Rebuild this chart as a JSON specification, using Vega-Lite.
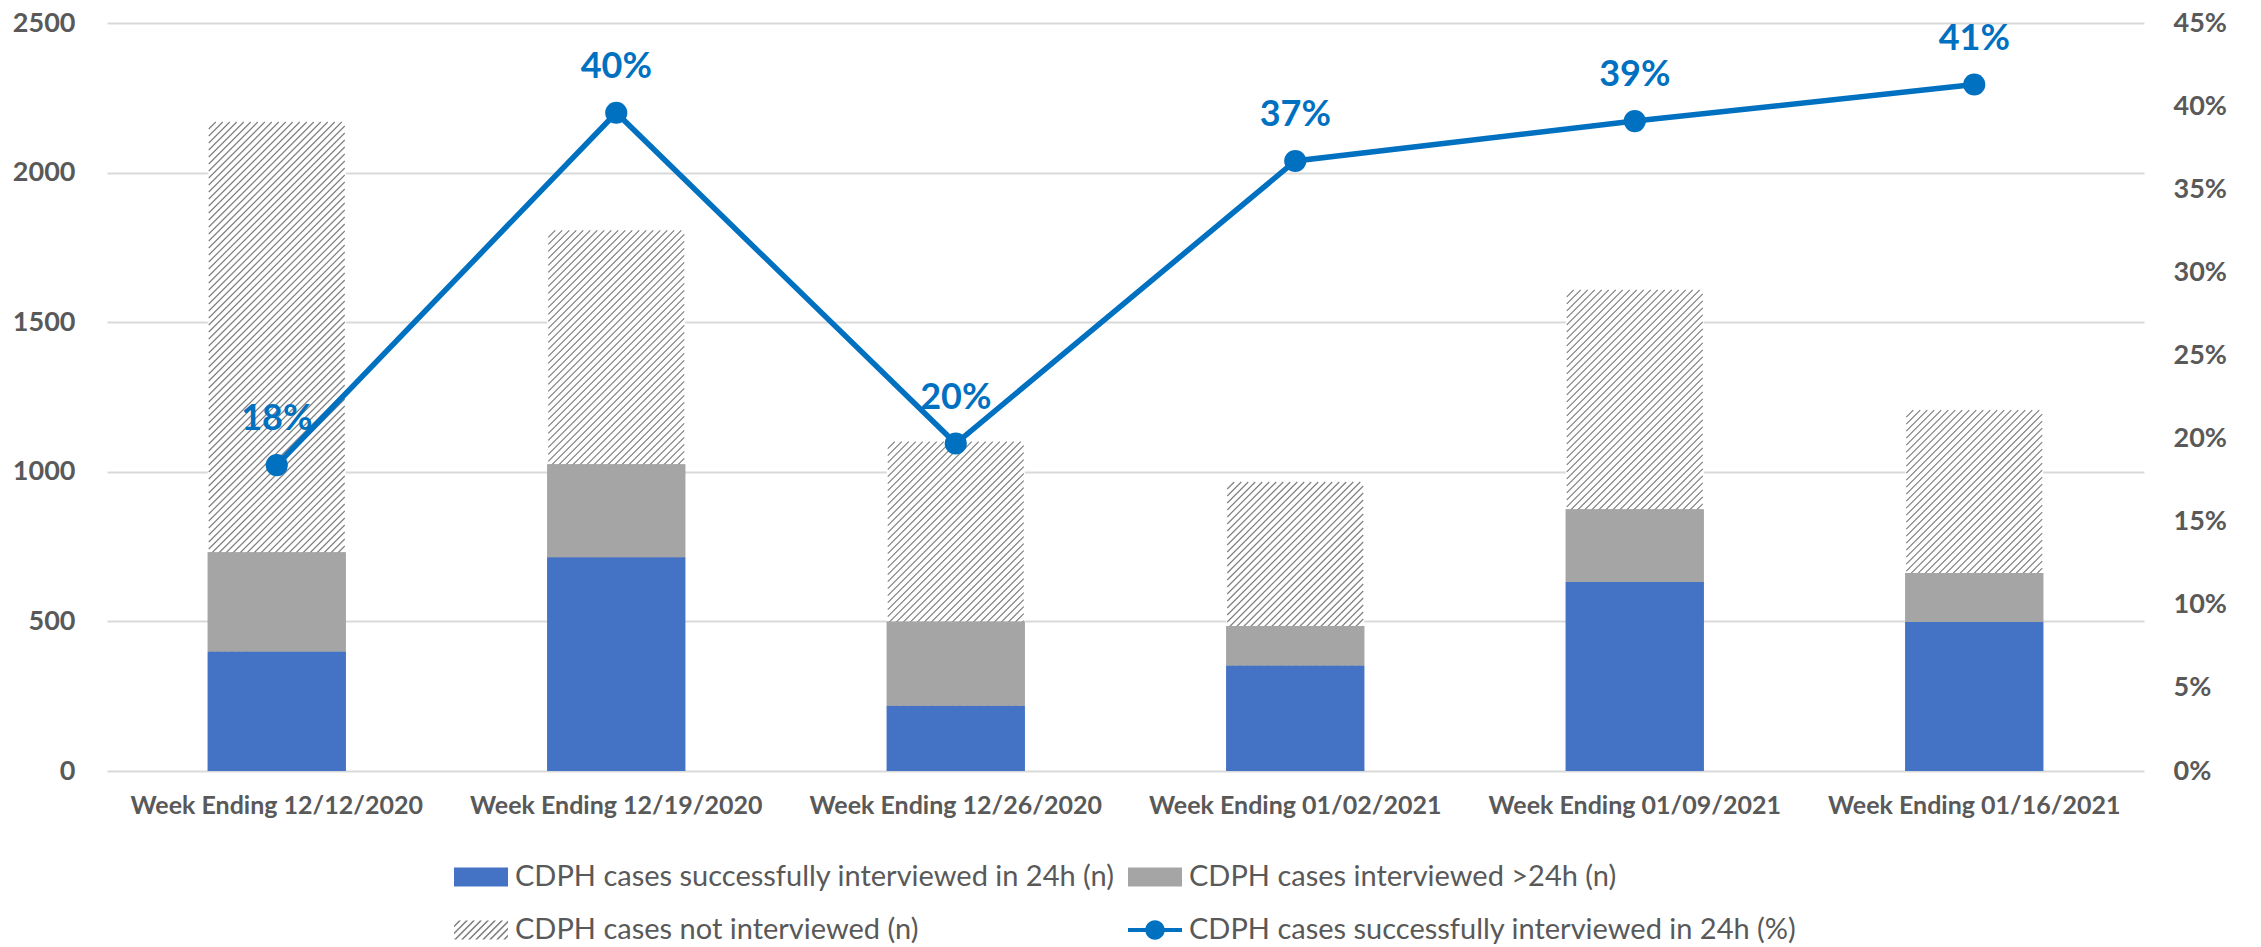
{
  "$schema": "https://vega.github.io/schema/vega-lite/v6.json",
  "width": 2037,
  "height": 748,
  "autosize": {"type": "none"},
  "padding": {"left": 107, "top": 23, "right": 117, "bottom": 176},
  "background": "white",
  "config": {
    "view": {"stroke": null},
    "font": "Lato",
    "axis": {"labelColor": "#595959", "labelFont": "Lato", "domain": false, "ticks": false, "gridColor": "#D9D9D9", "gridWidth": 2, "labelLimit": 0},
    "axisLeft": {"labelFontSize": 27, "labelFontWeight": "bold", "labelPadding": 32},
    "axisRight": {"labelFontSize": 27, "labelFontWeight": "bold", "labelPadding": 29, "grid": false},
    "axisBottom": {"labelFontSize": 25, "labelFontWeight": "bold", "labelPadding": 22, "labelAngle": 0, "grid": false},
    "legend": {"labelFont": "Lato", "labelFontSize": 29, "labelColor": "#595959", "symbolSize": 2916, "symbolStrokeWidth": 0, "symbolOpacity": 1, "labelOffset": 7, "columnPadding": 13, "rowPadding": 11, "orient": "none", "legendX": 347, "legendY": 827, "direction": "horizontal", "columns": 2, "labelLimit": 0}
  },
  "datasets": {
    "counts": [
      {"week": "Week Ending 12/12/2020", "series": "interviewed_24h", "n": 399},
      {"week": "Week Ending 12/12/2020", "series": "interviewed_over_24h", "n": 332},
      {"week": "Week Ending 12/12/2020", "series": "not_interviewed", "n": 1438},
      {"week": "Week Ending 12/19/2020", "series": "interviewed_24h", "n": 714},
      {"week": "Week Ending 12/19/2020", "series": "interviewed_over_24h", "n": 311},
      {"week": "Week Ending 12/19/2020", "series": "not_interviewed", "n": 782},
      {"week": "Week Ending 12/26/2020", "series": "interviewed_24h", "n": 218},
      {"week": "Week Ending 12/26/2020", "series": "interviewed_over_24h", "n": 282},
      {"week": "Week Ending 12/26/2020", "series": "not_interviewed", "n": 601},
      {"week": "Week Ending 01/02/2021", "series": "interviewed_24h", "n": 353},
      {"week": "Week Ending 01/02/2021", "series": "interviewed_over_24h", "n": 132},
      {"week": "Week Ending 01/02/2021", "series": "not_interviewed", "n": 481},
      {"week": "Week Ending 01/09/2021", "series": "interviewed_24h", "n": 632},
      {"week": "Week Ending 01/09/2021", "series": "interviewed_over_24h", "n": 243},
      {"week": "Week Ending 01/09/2021", "series": "not_interviewed", "n": 733},
      {"week": "Week Ending 01/16/2021", "series": "interviewed_24h", "n": 498},
      {"week": "Week Ending 01/16/2021", "series": "interviewed_over_24h", "n": 164},
      {"week": "Week Ending 01/16/2021", "series": "not_interviewed", "n": 544}
    ],
    "pct": [
      {"week": "Week Ending 12/12/2020", "pct": 0.184},
      {"week": "Week Ending 12/19/2020", "pct": 0.396},
      {"week": "Week Ending 12/26/2020", "pct": 0.197},
      {"week": "Week Ending 01/02/2021", "pct": 0.367},
      {"week": "Week Ending 01/09/2021", "pct": 0.391},
      {"week": "Week Ending 01/16/2021", "pct": 0.413}
    ]
  },
  "encoding": {
    "x": {
      "field": "week",
      "type": "nominal",
      "title": null,
      "scale": {
        "domain": ["Week Ending 12/12/2020", "Week Ending 12/19/2020", "Week Ending 12/26/2020", "Week Ending 01/02/2021", "Week Ending 01/09/2021", "Week Ending 01/16/2021"],
        "paddingInner": 0,
        "paddingOuter": 0
      },
      "axis": {"title": null}
    }
  },
  "layer": [
    {
      "data": {"name": "counts"},
      "layer": [
        {
          "mark": {"type": "bar", "width": 138},
          "encoding": {
            "y": {"field": "n", "type": "quantitative", "stack": "zero", "title": null,
              "scale": {"domain": [0, 2500], "nice": false},
              "axis": {"title": null, "values": [0, 500, 1000, 1500, 2000, 2500], "grid": true, "format": "d"}},
            "order": {"field": "series", "sort": "ascending"},
            "color": {
              "condition": {"test": "datum.series === 'not_interviewed'", "value": "#FFFFFF"},
              "field": "series",
              "type": "nominal",
              "scale": {
                "domain": ["interviewed_24h", "interviewed_over_24h", "not_interviewed", "pct_interviewed_24h"],
                "range": ["#4472C4", "#A5A5A5", "#7F7F7F", "#0070C0"]
              },
              "legend": {
                "title": null,
                "labelExpr": "datum.value === 'interviewed_24h' ? 'CDPH cases successfully interviewed in 24h (n)' : datum.value === 'interviewed_over_24h' ? 'CDPH cases interviewed >24h (n)' : datum.value === 'not_interviewed' ? 'CDPH cases not interviewed (n)' : 'CDPH cases successfully interviewed in 24h (%)'",
                "encode": {
                  "symbols": {
                    "update": {
                      "shape": {"signal": "datum.value === 'pct_interviewed_24h' ? 'M-1,-0.075H1V0.075H-1ZM-0.36,0A0.36,0.36 0 1,1 0.36,0A0.36,0.36 0 1,1 -0.36,0Z' : datum.value === 'not_interviewed' ? 'M-0.82,-0.35L-0.74,-0.35L-1,-0.09L-1,-0.17ZM-0.56,-0.35L-0.48,-0.35L-1,0.17L-1,0.09ZM-0.3,-0.35L-0.22,-0.35L-0.92,0.35L-1,0.35ZM-0.04,-0.35L0.04,-0.35L-0.66,0.35L-0.74,0.35ZM0.22,-0.35L0.3,-0.35L-0.4,0.35L-0.48,0.35ZM0.48,-0.35L0.56,-0.35L-0.14,0.35L-0.22,0.35ZM0.74,-0.35L0.82,-0.35L0.12,0.35L0.04,0.35ZM1,-0.35L1,-0.27L0.38,0.35L0.3,0.35ZM1,-0.09L1,-0.01L0.64,0.35L0.56,0.35ZM1,0.17L1,0.25L0.9,0.35L0.82,0.35Z' : 'M-1,-0.35H1V0.35H-1Z'"},
                      "strokeWidth": {"value": 0},
                      "opacity": {"value": 1},
                      "fillOpacity": {"value": 1}
                    }
                  }
                }
              }
            }
          }
        },
        {
          "transform": [
            {"stack": "n", "groupby": ["week"], "sort": [{"field": "series", "order": "ascending"}], "as": ["n0", "n1"]},
            {"filter": "datum.series === 'not_interviewed'"}
          ],
          "mark": {
            "type": "point",
            "shape": "M-61,0l-7,7M-54,0l-14,14M-47,0l-21,21M-40,0l-28,28M-33,0l-35,35M-26,0l-42,42M-19,0l-49,49M-12,0l-56,56M-5,0l-63,63M2,0l-70,70M9,0l-77,77M16,0l-84,84M23,0l-91,91M30,0l-98,98M37,0l-105,105M44,0l-112,112M51,0l-119,119M58,0l-126,126M65,0l-133,133M68,4l-136,136M68,11l-136,136M68,18l-136,136M68,25l-136,136M68,32l-136,136M68,39l-136,136M68,46l-136,136M68,53l-136,136M68,60l-136,136M68,67l-136,136M68,74l-136,136M68,81l-136,136M68,88l-136,136M68,95l-136,136M68,102l-136,136M68,109l-136,136M68,116l-136,136M68,123l-136,136M68,130l-136,136M68,137l-136,136M68,144l-136,136M68,151l-136,136M68,158l-136,136M68,165l-136,136M68,172l-136,136M68,179l-136,136M68,186l-136,136M68,193l-136,136M68,200l-136,136M68,207l-136,136M68,214l-136,136M68,221l-136,136M68,228l-136,136M68,235l-136,136M68,242l-136,136M68,249l-136,136M68,256l-136,136M68,263l-136,136M68,270l-136,136M68,277l-136,136M68,284l-136,136M68,291l-136,136M68,298l-136,136M68,305l-136,136M68,312l-136,136M68,319l-136,136M68,326l-136,136M68,333l-136,136M68,340l-136,136M68,347l-136,136M68,354l-136,136M68,361l-136,136M68,368l-136,136M68,375l-136,136M68,382l-136,136M68,389l-136,136M68,396l-136,136M68,403l-136,136M68,410l-136,136M68,417l-136,136M68,424l-136,136M68,431l-136,136",
            "size": 4,
            "filled": false,
            "stroke": "#808080",
            "strokeWidth": 1.2,
            "opacity": 1,
            "clip": true
          },
          "encoding": {
            "y": {"field": "n1", "type": "quantitative", "title": null, "scale": {"domain": [0, 2500], "nice": false}, "axis": {"title": null, "values": [0, 500, 1000, 1500, 2000, 2500], "grid": true, "format": "d"}}
          }
        },
        {
          "transform": [{"filter": "datum.series !== 'not_interviewed'"}],
          "mark": {"type": "bar", "width": 138},
          "encoding": {
            "y": {"field": "n", "type": "quantitative", "stack": "zero", "title": null, "scale": {"domain": [0, 2500], "nice": false}, "axis": {"title": null, "values": [0, 500, 1000, 1500, 2000, 2500], "grid": true, "format": "d"}},
            "order": {"field": "series", "sort": "ascending"},
            "color": {"field": "series", "type": "nominal"}
          }
        }
      ]
    },
    {
      "data": {"name": "pct"},
      "encoding": {
        "y": {"field": "pct", "type": "quantitative", "title": null,
          "scale": {"domain": [0, 0.45], "nice": false},
          "axis": {"orient": "right", "title": null, "format": ".0%", "values": [0, 0.05, 0.1, 0.15, 0.2, 0.25, 0.3, 0.35, 0.4, 0.45], "grid": false}}
      },
      "layer": [
        {
          "mark": {"type": "line", "strokeWidth": 5.5},
          "encoding": {"color": {"datum": "pct_interviewed_24h", "type": "nominal"}}
        },
        {
          "mark": {"type": "point", "filled": true, "size": 490, "opacity": 1, "shape": "circle"},
          "encoding": {"color": {"datum": "pct_interviewed_24h", "type": "nominal"}}
        },
        {
          "mark": {"type": "text", "dy": -35, "baseline": "alphabetic", "fontSize": 36, "fontWeight": "bold", "font": "Lato", "color": "#0070C0"},
          "encoding": {"text": {"field": "pct", "format": ".0%"}}
        }
      ]
    }
  ],
  "resolve": {"scale": {"y": "independent"}}
}
